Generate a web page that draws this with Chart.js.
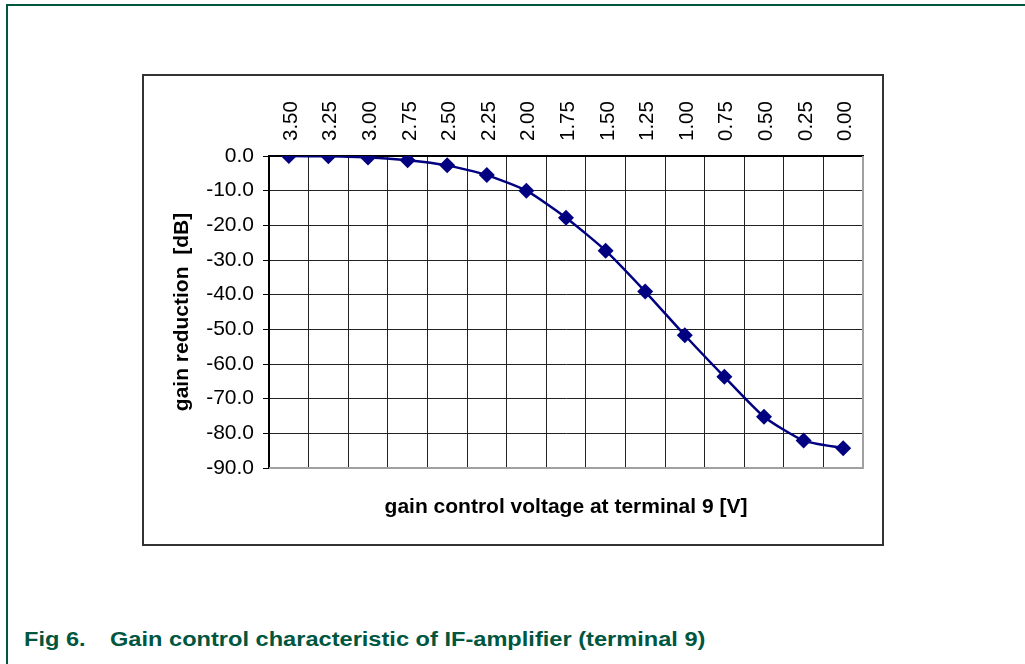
<!DOCTYPE html>
<html>
<head>
<meta charset="utf-8">
<script src="https://cdn.jsdelivr.net/npm/chart.js@4.4.1/dist/chart.umd.min.js"></script>
<style>
  html, body { margin: 0; padding: 0; background: #fff; }
  body { width: 1025px; height: 664px; position: relative; overflow: hidden; font-family: 'Liberation Sans', Arial, sans-serif; }
  #edgeTop { position: absolute; left: 6px; top: 4px; width: 1019px; height: 2px; background: #00563f; }
  #edgeLeft { position: absolute; left: 6px; top: 4px; width: 2px; height: 660px; background: #00563f; }
  #frame { position: absolute; left: 142px; top: 74px; width: 738px; height: 468px; border: 2px solid #333; background: #fff; }
  #wrap { position: absolute; left: 142px; top: 74px; width: 742px; height: 472px; }
  .caption { position: absolute; top: 628px; font: bold 20px 'Liberation Sans', Arial, sans-serif; color: #00563f;
    white-space: nowrap; transform: scaleX(1.18); transform-origin: left center; }
</style>
</head>
<body>
<div id="edgeTop"></div>
<div id="edgeLeft"></div>
<div id="frame"></div>
<div id="wrap"><canvas id="chart"></canvas></div>
<div class="caption" style="left:24px">Fig 6.</div>
<div class="caption" style="left:110px">Gain control characteristic of IF-amplifier (terminal 9)</div>
<script>
const voltageLabels = ['3.50', '3.25', '3.00', '2.75', '2.50', '2.25', '2.00', '1.75',
  '1.50', '1.25', '1.00', '0.75', '0.50', '0.25', '0.00']
const gainReduction = [0.0, -0.1, -0.4, -1.2, -2.7, -5.5, -10.0, -17.8,
  -27.3, -39.1, -51.7, -63.7, -75.2, -82.1, -84.3]
const yMin = -90, yMax = 0, yStep = 10

Chart.defaults.font.family = "'Liberation Sans', Arial, sans-serif"
Chart.defaults.color = '#000'

// grey right/bottom edge of the plot, like the Excel original
const plotEdges = {
  id: 'plotEdges',
  beforeDatasetsDraw(chart) {
    const {ctx, chartArea: a} = chart
    ctx.save()
    ctx.strokeStyle = '#a0a0a0'
    ctx.lineWidth = 2
    ctx.beginPath()
    ctx.moveTo(a.left, a.bottom)
    ctx.lineTo(a.right, a.bottom)
    ctx.lineTo(a.right, a.top)
    ctx.stroke()
    ctx.restore()
  }
}

new Chart(document.getElementById('chart'), {
  type: 'line',
  data: {
    labels: voltageLabels,
    datasets: [{
      data: gainReduction,
      borderColor: '#000080',
      backgroundColor: '#000080',
      borderWidth: 2.5,
      tension: 0.2,
      pointStyle: 'rectRot',
      pointRadius: 8,
      pointBorderWidth: 0,
      fill: false
    }]
  },
  options: {
    responsive: true,
    maintainAspectRatio: false,
    animation: false,
    layout: {padding: {left: 0, right: 21, top: 0, bottom: 0}},
    plugins: {legend: {display: false}, tooltip: {enabled: false}},
    scales: {
      x: {
        type: 'category',
        position: 'top',
        offset: true,
        grid: {offset: true, color: '#222', lineWidth: 1, drawTicks: false},
        border: {color: '#000', width: 2},
        ticks: {autoSkip: false, minRotation: 90, maxRotation: 90, padding: 15, labelOffset: 27,
          color: '#000', font: {size: 20.5}},
        afterFit: s => { s.height = 82 }
      },
      x2: {
        type: 'category',
        position: 'bottom',
        labels: voltageLabels,
        grid: {display: false},
        border: {display: false},
        ticks: {display: false},
        title: {display: true, text: 'gain control voltage at terminal 9 [V]', color: '#000',
          font: {size: 21, weight: 'bold'}, padding: {top: 0, bottom: 26}},
        afterFit: s => { s.height = 78 }
      },
      y: {
        min: yMin,
        max: yMax,
        ticks: {stepSize: yStep, padding: 9, color: '#000', font: {size: 21}, callback: v => v.toFixed(1)},
        grid: {color: '#222', lineWidth: 1, tickLength: 6, tickColor: '#000'},
        border: {color: '#000', width: 2},
        title: {display: true, text: 'gain reduction  [dB]', color: '#000',
          font: {size: 21, weight: 'bold'}, padding: {top: 28, bottom: 0}},
        afterFit: s => { s.width = 127 }
      }
    }
  },
  plugins: [plotEdges]
})
</script>
</body>
</html>
